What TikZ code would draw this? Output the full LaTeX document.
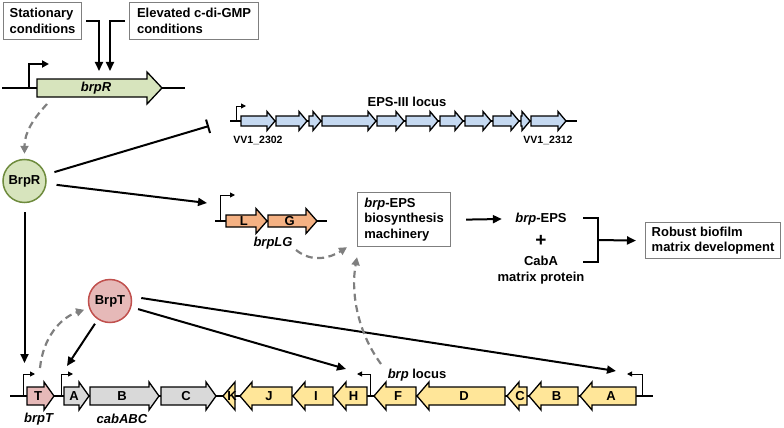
\documentclass[tikz,border=0pt]{standalone}
\usepackage{fontspec}
\setmainfont{Liberation Sans}
\usetikzlibrary{arrows.meta}

\definecolor{rgreen}{HTML}{D7E4BD}
\definecolor{rgreendk}{HTML}{6E8B3D}
\definecolor{tpink}{HTML}{E6B9B8}
\definecolor{tred}{HTML}{C0504D}
\definecolor{epsblue}{HTML}{C5D9F1}
\definecolor{lgorange}{HTML}{F4B183}
\definecolor{brpyellow}{HTML}{FFE699}
\definecolor{cabgrey}{HTML}{D9D9D9}
\definecolor{boxgrey}{HTML}{7F7F7F}

\tikzset{
  every node/.style={font=\fontsize{13}{15.5}\selectfont\bfseries},
  gene/.style={draw=black, line width=1.3pt},
  dna/.style={line width=1.5pt},
  prom/.style={line width=1pt, -{Triangle[length=5pt,width=5pt]}},
  act/.style={line width=2pt, -{Triangle[length=9pt,width=8pt]}},
  inh/.style={line width=2pt, -{Bar[width=14pt,line width=2pt]}},
  fb/.style={line width=2.2pt, boxgrey, dash pattern=on 7pt off 4.5pt, -{Triangle[length=8pt,width=8pt]}},
  condbox/.style={draw=boxgrey, line width=1.2pt, align=left, anchor=north west},
  regulator/.style={circle, minimum size=43pt, line width=1.5pt, inner sep=0pt},
  small/.style={font=\fontsize{10.5}{12}\selectfont\bfseries},
}

% genes: x1, x2, fill, label -- uses \gy, \gh, \gH, \ghl
\newcommand{\rgene}[4]{%
  \pgfmathsetmacro{\gx}{max(#1,#2-\ghl)}%
  \draw[gene, fill=#3] (#1,\gy-\gh) -- (\gx,\gy-\gh) -- (\gx,\gy-\gH) -- (#2,\gy)
    -- (\gx,\gy+\gH) -- (\gx,\gy+\gh) -- (#1,\gy+\gh) -- cycle;
  \if\relax\detokenize{#4}\relax\else\node at ({(#1+#2)/2-\ghl/4},\gy) {#4};\fi}
\newcommand{\lgene}[4]{%
  \pgfmathsetmacro{\gx}{min(#2,#1+\ghl)}%
  \draw[gene, fill=#3] (#2,\gy-\gh) -- (\gx,\gy-\gh) -- (\gx,\gy-\gH) -- (#1,\gy)
    -- (\gx,\gy+\gH) -- (\gx,\gy+\gh) -- (#2,\gy+\gh) -- cycle;
  \if\relax\detokenize{#4}\relax\else\node at ({(#1+#2)/2+\ghl/4},\gy) {#4};\fi}

\begin{document}
\begin{tikzpicture}[x=1pt, y=-1pt]
  \useasboundingbox (0,0) rectangle (784,428);

  % signals and brpR
  \node[condbox, minimum width=78pt, minimum height=37pt] (stat) at (3,2) {Stationary\\conditions};
  \node[condbox, minimum width=129pt, minimum height=37pt] (cdg) at (129,2) {Elevated c-di-GMP\\conditions};
  \coordinate (sigA) at (99,71);
  \coordinate (sigB) at (110,71);
  \draw[act] ([xshift=4pt]stat.east) -| (sigA);
  \draw[act] ([xshift=-4pt]cdg.west) -| (sigB);

  \draw[dna] (2,88) -- (185,88);
  \def\gy{88}\def\gh{9}\def\gH{16}\def\ghl{15}
  \rgene{37}{162}{rgreen}{}
  \node at (96,88) {\textit{brpR}};
  \draw[line width=2pt, -{Triangle[length=7pt,width=7pt]}] (29,88) -- (29,64) -- (49,64);

  \node[regulator, draw=rgreendk, fill=rgreen] (brpR) at (24.5,181) {BrpR};
  \coordinate (brpRgene) at (47,104);
  \draw[fb, shorten >=5pt] (brpRgene) .. controls (34,118) and (24.5,132) .. (brpR);

  % EPS-III locus
  \draw[dna] (230,121) -- (577,121);
  \def\gy{121}\def\gh{5}\def\gH{9.5}\def\ghl{8}
  \foreach \a/\b in {241/275, 276/307, 309/321, 322/376, 377/404, 406/438,
                     440/463, 465/491, 493/519, 521/530, 531/566}
    {\rgene{\a}{\b}{epsblue}{}}
  \draw[prom] (236,121) -- (236,106) -- (246,106);
  \node (epsname) at (407,102) {EPS-III locus};
  \node[small] at (258,140) {VV1\_2302};
  \node[small] at (548,140) {VV1\_2312};
  \coordinate (epsstop) at (209,126);
  \draw[inh, shorten <=9pt] (brpR) -- (epsstop);

  % brpLG
  \draw[dna] (215,221) -- (327,221);
  \def\gy{221}\def\gh{6}\def\gH{12.5}\def\ghl{11}
  \rgene{226}{267}{lgorange}{L}
  \rgene{268}{317}{lgorange}{G}
  \draw[prom] (220,221) -- (220,195) -- (235,195);
  \node (lglabel) at (273,243) {\textit{brpLG}};
  \coordinate (lgtip) at (207,203);
  \draw[act, shorten <=10pt] (brpR) -- (lgtip);

  % products
  \node[condbox, minimum width=93pt, minimum height=54pt] (mach) at (357,192) {\textit{brp}-EPS\\biosynthesis\\machinery};
  \draw[fb] ([yshift=-7pt]lglabel.east) .. controls (312,263) and (330,258) .. ([xshift=-10pt]mach.south west);
  \node (eps) at (541,219) {\textit{brp}-EPS};
  \node[font=\fontsize{19}{19}\selectfont\bfseries] (plus) at (541,241) {+};
  \node[align=center] (caba) at (541,270) {CabA\\matrix protein};
  \draw[act] ([xshift=15pt]mach.east) -- ([xshift=-10pt]eps.west);
  \draw[line width=2pt] (583,218) -| (598,262) -- (583,262);
  \coordinate (brmid) at (598,240);
  \node[condbox, minimum width=135pt, minimum height=36pt] (robust) at (645,222) {Robust biofilm\\matrix development};
  \draw[act] (brmid) -- ([xshift=-9pt]robust.west);

  % brpT, cabABC and brp locus
  \draw[dna] (10,396) -- (653,396);
  \def\gy{396}\def\gh{9}\def\gH{14}\def\ghl{10}
  \rgene{27}{54}{tpink}{T}
  \foreach \a/\b/\gname in {64/89/A, 90/159/B, 161/216/C}
    {\rgene{\a}{\b}{cabgrey}{\gname}}
  \def\ghl{12}
  \foreach \a/\b/\gname in {223/235/K, 240/292/J, 293/333/I, 334/367/H, 374/416/F,
                            417/505/D, 507/527/C, 529/578/B, 580/636/A}
    {\lgene{\a}{\b}{brpyellow}{\gname}}
  \draw[prom] (23,396) -- (23,374) -- (35,374);
  \draw[prom] (61,396) -- (61,374) -- (73,374);
  \draw[prom] (370,396) -- (370,374) -- (357,374);
  \draw[prom] (642,396) -- (642,374) -- (627,374);
  \node (brpTlab) at (39,419) {\textit{brpT}};
  \node (cablab) at (122,419) {\textit{cabABC}};
  \node (brploc) at (417,375) {\textit{brp} locus};

  \node[regulator, draw=tred, fill=tpink] (brpT) at (110,301) {BrpT};
  \coordinate (tT) at (24.5,363);
  \coordinate (tA) at (67,366);
  \coordinate (tH) at (346,369);
  \coordinate (tbrpA) at (616,371);
  \coordinate (Ttop) at (40,368);
  \coordinate (Ftop) at (381,364);
  \draw[act, shorten <=9pt] (brpR) -- (tT);
  \draw[act, shorten <=5pt] (brpT) -- (tA);
  \draw[act, shorten <=7pt] (brpT) -- (tH);
  \draw[act] ([shift={(9pt,3pt)}]brpT.east) -- (tbrpA);
  \draw[fb, shorten >=5pt] (Ttop) .. controls (43,338) and (60,318) .. (brpT);
  \draw[fb] (Ftop) .. controls (356,330) and (351,290) .. ([yshift=-10pt]mach.south west);
\end{tikzpicture}
\end{document}
